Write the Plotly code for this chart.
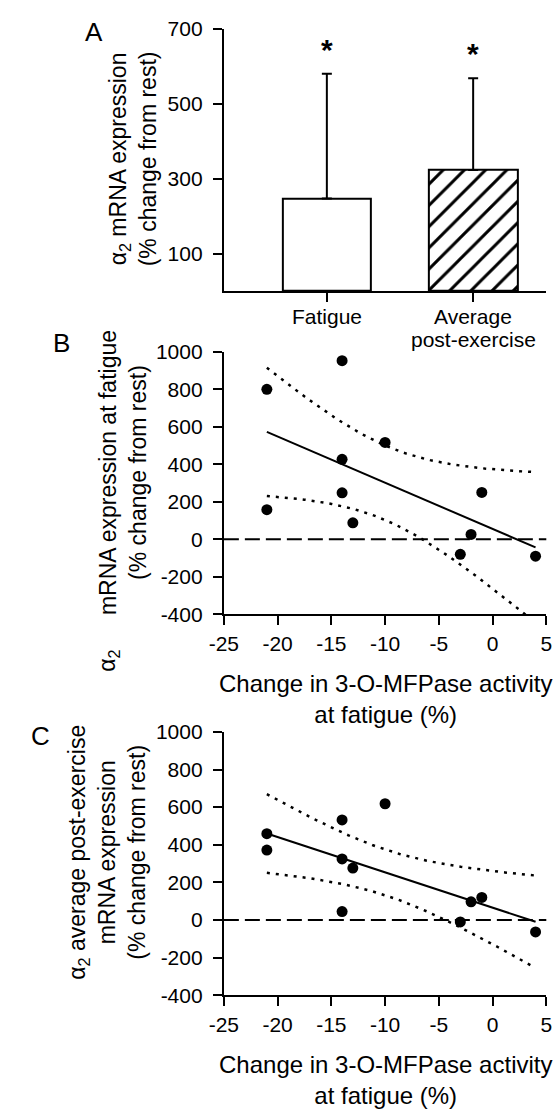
import numpy as np
import plotly.graph_objects as go

W, H = 560, 1117
FONT = "'Liberation Sans', Arial, Helvetica, sans-serif"

# Panel A: mean change from rest with upper error
conditions = ["Fatigue", "Average<br>post-exercise"]
mean_change = [247, 323]
error_up = [333, 245]

# Panels B and C: individual subjects
mfpase_change = [-21, -21, -14, -14, -14, -13, -10, -3, -2, -1, 4]
mrna_fatigue = [800, 158, 953, 427, 248, 88, 517, -80, 26, 250, -90]
mrna_post = [459, 372, 532, 325, 45, 276, 618, -10, 97, 120, -63]

T_CRIT = 2.262  # two-sided 95 %, df = 9


def fit_with_band(x, y, n_pts=80):
    """Least-squares line and 95 % confidence band of the mean response."""
    x = np.asarray(x, float)
    y = np.asarray(y, float)
    slope, icpt = np.polyfit(x, y, 1)
    resid = y - (slope * x + icpt)
    n = len(x)
    s = np.sqrt(np.sum(resid ** 2) / (n - 2))
    sxx = np.sum((x - x.mean()) ** 2)
    xs = np.linspace(x.min(), x.max(), n_pts)
    yhat = slope * xs + icpt
    half = T_CRIT * s * np.sqrt(1 / n + (xs - x.mean()) ** 2 / sxx)
    return xs, yhat, yhat - half, yhat + half


def py(px):
    return 1 - px / H


def px_x(px):
    return px / W


X_DOM = [px_x(217), px_x(552)]

fig = go.Figure()

# ---- Panel A: bars
fig.add_trace(go.Bar(
    x=[0, 1], y=mean_change, width=0.605,
    marker=dict(color="white", line=dict(color="black", width=2),
                pattern=dict(shape=["", "/"], fgcolor="black", bgcolor="white",
                             size=15, solidity=0.2, fgopacity=1)),
    error_y=dict(type="data", symmetric=False, array=error_up, arrayminus=[0, 0],
                 color="black", thickness=2, width=5),
    xaxis="x", yaxis="y", showlegend=False,
))

# ---- Panels B and C: scatter, fit and confidence band
for yvals, xa, ya in [(mrna_fatigue, "x2", "y2"), (mrna_post, "x3", "y3")]:
    xs, yhat, lo, hi = fit_with_band(mfpase_change, yvals)
    for band in (lo, hi):
        fig.add_trace(go.Scatter(x=xs, y=band, mode="lines",
                                 line=dict(color="black", width=2.5, dash="3px,6px"),
                                 xaxis=xa, yaxis=ya, showlegend=False))
    fig.add_trace(go.Scatter(x=xs, y=yhat, mode="lines",
                             line=dict(color="black", width=2),
                             xaxis=xa, yaxis=ya, showlegend=False))
    fig.add_trace(go.Scatter(x=mfpase_change, y=yvals, mode="markers",
                             marker=dict(color="black", size=11),
                             xaxis=xa, yaxis=ya, showlegend=False, cliponaxis=False))
    fig.add_shape(type="line", xref=f"{xa} domain", yref=ya, x0=0, x1=1, y0=0, y1=0,
                  line=dict(color="black", width=2, dash="15px,6px"))

axis_common = dict(showline=True, linecolor="black", linewidth=2, ticks="outside",
                   ticklen=9, tickwidth=2, tickcolor="black", showgrid=False,
                   zeroline=False, tickfont=dict(size=21, color="black", family=FONT),
                   fixedrange=True)

scatter_x = dict(axis_common, range=[-25, 5], tickvals=[-25, -20, -15, -10, -5, 0, 5],
                 ticktext=["-25", "-20", "-15", "-10", "-5", "0", "5"], domain=X_DOM)
scatter_y = dict(axis_common, range=[-400, 1000],
                 tickvals=[-400, -200, 0, 200, 400, 600, 800, 1000],
                 ticktext=["-400", "-200", "0", "200", "400", "600", "800", "1000"],
                 ticklabelstandoff=6)

fig.update_layout(
    width=W, height=H, margin=dict(l=0, r=0, t=0, b=0),
    paper_bgcolor="white", plot_bgcolor="white",
    font=dict(family=FONT, color="black"),
    bargap=0,
    xaxis=dict(axis_common, range=[-0.704, 1.5], tickvals=[0, 1],
               showticklabels=False, domain=X_DOM, anchor="y"),
    yaxis=dict(axis_common, range=[0, 700], tickvals=[100, 300, 500, 700],
               ticktext=["100", "300", "500", "700"], domain=[py(285), py(17)],
               anchor="x", ticklabelstandoff=6),
    xaxis2=dict(scatter_x, anchor="y2"),
    yaxis2=dict(scatter_y, domain=[py(615), py(347)], anchor="x2"),
    xaxis3=dict(scatter_x, anchor="y3"),
    yaxis3=dict(scatter_y, domain=[py(1004), py(735)], anchor="x3"),
)

ann = []


def label(text, x, y, size, angle=0, **kw):
    ann.append(dict(text=text, x=px_x(x), y=py(y), xref="paper", yref="paper",
                    showarrow=False, textangle=angle, xanchor="center", yanchor="middle",
                    font=dict(size=size, color="black", family=FONT), **kw))


# panel letters
label("A", 82, 20, 26)
label("B", 48, 338, 26)
label("C", 27, 739, 26)

# category names under the bars, one line at a time
for i, cat in enumerate(conditions):
    for j, line in enumerate(cat.split("<br>")):
        ann.append(dict(text=line, x=i, xref="x", y=py(311 + 23 * j), yref="paper",
                        showarrow=False, xanchor="center", yanchor="middle",
                        font=dict(size=21, color="black", family=FONT)))

# significance markers above the error bars
for i, (m, e) in enumerate(zip(mean_change, error_up)):
    ann.append(dict(text="<b>*</b>", x=i, y=m + e, xref="x", yref="y", showarrow=False,
                    xanchor="center", yanchor="bottom", yshift=6,
                    font=dict(size=30, color="black", family=FONT)))

# y-axis titles
label("α<sub>2</sub> mRNA expression<br>(% change from rest)", 123, 150, 23, -90)
label("mRNA expression at fatigue<br>(% change from rest)", 113, 470, 23, -90)
label("α<sub>2</sub>", 97, 662, 23, -90)
label("α<sub>2</sub> average post-exercise<br>mRNA expression<br>(% change from rest)",
      96, 858, 23, -90)

# x-axis titles
label("Change in 3-O-MFPase activity<br>at fatigue (%)", 384.5, 701, 24)
label("Change in 3-O-MFPase activity<br>at fatigue (%)", 384.5, 1090, 24)

fig.update_layout(annotations=ann)

fig.write_html("out.html")
